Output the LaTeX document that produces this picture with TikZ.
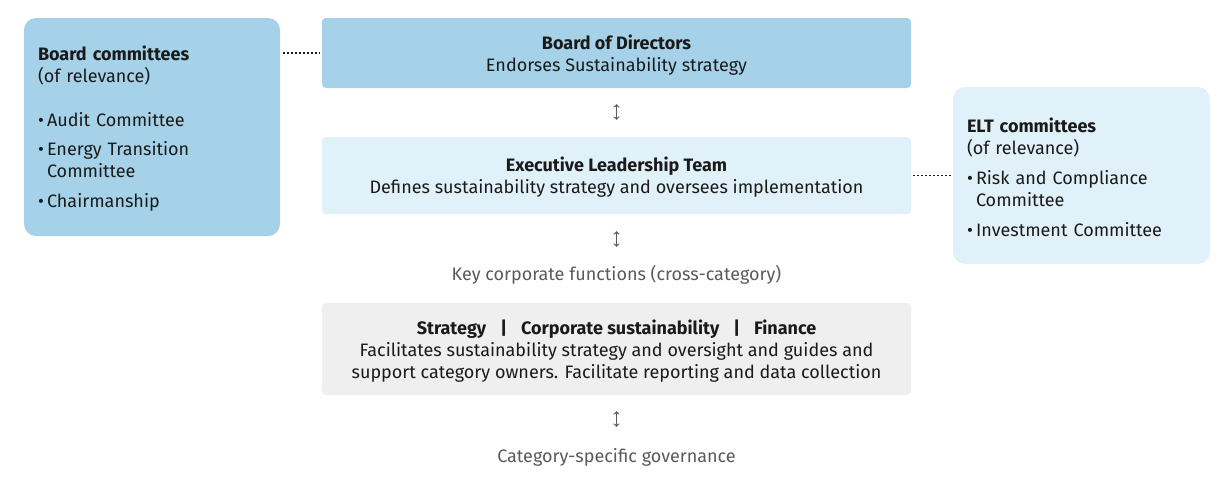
\documentclass[tikz,border=0pt]{standalone}
\usepackage{fontspec}
\setmainfont{Fira Sans}
\usepackage{xcolor}
\usepackage{tikz}
\usetikzlibrary{positioning}

\definecolor{boardblue}{HTML}{A5D2E8}
\definecolor{paleblue}{HTML}{E1F1F9}
\definecolor{palegray}{HTML}{EFEFEF}
\definecolor{textgray}{HTML}{5A5A5A}
\definecolor{ink}{HTML}{1A1A1A}

\newcommand{\bul}{\makebox[9pt][l]{\textbullet}}
\newcommand{\hang}{\hspace*{9pt}}
\newcommand{\lift}{\rule{0pt}{18pt}}

\tikzset{
  midbox/.style={rounded corners=4pt, minimum width=589pt, align=center, inner sep=0pt, text depth=0pt},
  sidebox/.style={rounded corners=12pt, inner xsep=14pt, inner ysep=0pt, align=left},
  caption/.style={text=textgray, inner sep=0pt, text height=13pt, text depth=5pt},
  link/.style={draw=textgray, line width=1.2pt, <->},
  dotlink/.style={draw=ink, line width=1.5pt, dash pattern=on 1.5pt off 2.5pt}
}

\begin{document}
\begin{tikzpicture}[x=1pt, y=-1pt, every node/.style={font=\fontsize{18}{22}\selectfont, text=ink}]
    \useasboundingbox (0,0) rectangle (1232,483);

    % centre column
    \node[midbox, fill=boardblue, minimum height=70pt] (bod) at (616.5,53)
        {\textbf{Board of Directors}\\ Endorses Sustainability strategy};
    \node[midbox, fill=paleblue, minimum height=77pt] (elt) at (616.5,175.5)
        {\textbf{Executive Leadership Team}\\ Defines sustainability strategy and oversees implementation};
    \node[caption] (keyfn) at (616.5,276) {Key corporate functions (cross-category)};
    \node[midbox, fill=palegray, minimum height=92pt] (support) at (616.5,349)
        {\textbf{Strategy\hspace{14pt}|\hspace{14pt}Corporate sustainability\hspace{14pt}|\hspace{14pt}Finance}\\
         Facilitates sustainability strategy and oversight and guides and\\
         support category owners. Facilitate reporting and data collection};
    \node[caption] (catgov) at (616.5,458) {Category-specific governance};

    % side boxes
    \node[sidebox, fill=boardblue, text width=228pt, minimum height=218pt] (boardcom) at (152,127)
        {\lift\textbf{Board committees}\\ (of relevance)\\[22pt]
         \bul Audit Committee\\[7pt]
         \bul Energy Transition\\ \hang Committee\\[8pt]
         \bul Chairmanship};
    \node[sidebox, fill=paleblue, text width=229pt, minimum height=177pt] (eltcom) at (1081.5,175.5)
        {\lift\textbf{ELT committees}\\ (of relevance)\\[8pt]
         \bul Risk and Compliance\\ \hang Committee\\[8pt]
         \bul Investment Committee};

    % links
    \draw[link, shorten <=16pt, shorten >=17pt] (bod.south) -- (elt.north);
    \draw[link, shorten <=17pt, shorten >=20pt] (elt.south) -- (keyfn.north);
    \draw[link, shorten <=16pt, shorten >=22pt] (support.south) -- (catgov.north);

    \draw[dotlink, shorten <=3pt, shorten >=2pt] (bod.west -| boardcom.east) -- (bod.west);
    \draw[dotlink, shorten <=2pt, shorten >=2pt] (elt.east) -- (eltcom.west);
\end{tikzpicture}
\end{document}
